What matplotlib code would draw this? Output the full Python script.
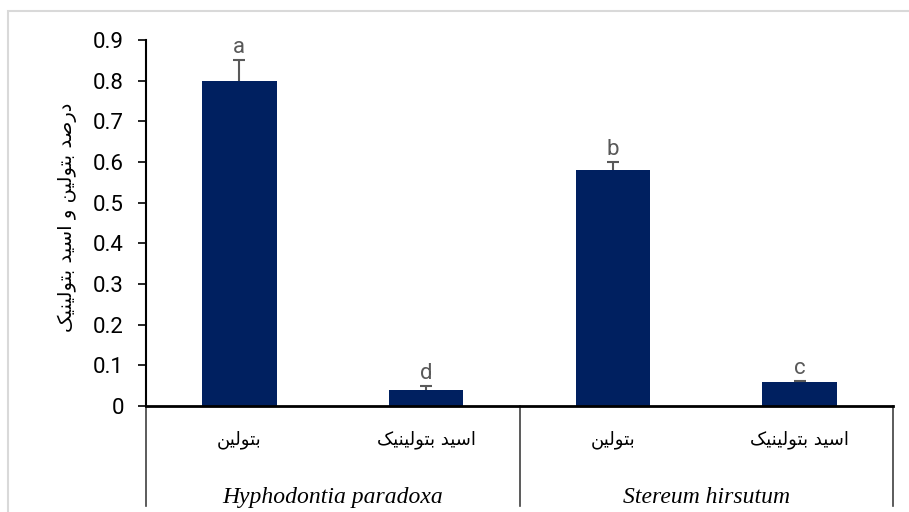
import numpy as np
import matplotlib
matplotlib.use('Agg')
import matplotlib.pyplot as plt
from matplotlib.patches import Rectangle

plt.rcParams['font.family'] = ['Roboto', 'DejaVu Sans']

# data
species = ['Hyphodontia paradoxa', 'Stereum hirsutum']
compounds = ['بتولین', 'اسید بتولینیک']
values = [0.80, 0.04, 0.58, 0.06]
errors = [0.05, 0.01, 0.02, 0.002]
letters = ['a', 'd', 'b', 'c']
y_ticks = [0, 0.1, 0.2, 0.3, 0.4, 0.5, 0.6, 0.7, 0.8, 0.9]
y_tick_labels = ['0', '0.1', '0.2', '0.3', '0.4', '0.5', '0.6', '0.7', '0.8', '0.9']
y_title = 'درصد بتولین و اسید بتولینیک'

# matplotlib has no arabic shaping, so pick presentation forms by hand
FORMS = {
    'ا': ('\uFE8D', '\uFE8E'),
    'د': ('\uFEA9', '\uFEAA'),
    'ر': ('\uFEAD', '\uFEAE'),
    'و': ('\uFEED', '\uFEEE'),
    'ب': ('\uFE8F', '\uFE90', '\uFE91', '\uFE92'),
    'ت': ('\uFE95', '\uFE96', '\uFE97', '\uFE98'),
    'س': ('\uFEB1', '\uFEB2', '\uFEB3', '\uFEB4'),
    'ص': ('\uFEB9', '\uFEBA', '\uFEBB', '\uFEBC'),
    'ل': ('\uFEDD', '\uFEDE', '\uFEDF', '\uFEE0'),
    'ن': ('\uFEE5', '\uFEE6', '\uFEE7', '\uFEE8'),
    'ی': ('\uFBFC', '\uFBFD', '\uFBFE', '\uFBFF'),
    'ک': ('\uFB8E', '\uFB8F', '\uFB90', '\uFB91'),
}


def shape(text):
    out = []
    for i, ch in enumerate(text):
        f = FORMS.get(ch)
        if f is None:
            out.append(ch)
            continue
        prev = text[i - 1] if i > 0 else ''
        nxt = text[i + 1] if i + 1 < len(text) else ''
        join_prev = prev in FORMS and len(FORMS[prev]) == 4
        join_next = len(f) == 4 and nxt in FORMS
        if join_prev and join_next:
            out.append(f[3])
        elif join_prev:
            out.append(f[1])
        elif join_next:
            out.append(f[2])
        else:
            out.append(f[0])
    return ''.join(out)[::-1]


fig = plt.figure(figsize=(9.09, 5.12), dpi=100)
ax = fig.add_axes([146 / 909, 1 - 406 / 512, 747 / 909, 366 / 512])

n = len(species) * len(compounds)
x = np.arange(n)
ax.bar(x, values, width=0.4, color='#002060', zorder=2)
eb = ax.errorbar(x, values, yerr=[np.zeros(n), errors], fmt='none', ecolor='#595959',
                 elinewidth=1.5, capsize=4, capthick=1.5, zorder=3)
eb[1][0].set_visible(False)  # plus-only error bars

for i in range(n):
    ax.annotate(letters[i], (x[i], values[i] + errors[i]), xytext=(0, 5),
                textcoords='offset points', ha='center', va='baseline',
                color='#595959', fontsize=16)

ax.set_xlim(-0.5, n - 0.5)
ax.set_ylim(0, 0.9)
ax.set_yticks(y_ticks)
ax.set_yticklabels(y_tick_labels)
ax.tick_params(axis='y', length=6, width=1.2, pad=10, labelsize=16, colors='black')
ax.set_xticks([])
for s in ['top', 'right']:
    ax.spines[s].set_visible(False)
ax.spines['left'].set_linewidth(1.5)
ax.spines['bottom'].set_linewidth(2)

# category table below the axis
trans = ax.get_xaxis_transform()
per = len(compounds)
for k in range(len(species) + 1):
    xv = k * per - 0.5
    ax.plot([xv, xv], [0, -0.273], transform=trans, clip_on=False,
            color='#404040', lw=1.2)
for g, sp in enumerate(species):
    for j, c in enumerate(compounds):
        ax.text(g * per + j, -0.093, shape(c), transform=trans, ha='center',
                va='center', fontsize=13, family='DejaVu Sans')
    ax.text(g * per + (per - 1) / 2, -0.265, sp, transform=trans, ha='center',
            va='baseline', fontsize=17, style='italic', family='Liberation Serif')

fig.text(67 / 909, 1 - 217 / 512, shape(y_title), rotation=90, ha='center',
         va='center', fontsize=14, family='DejaVu Sans')

fig.add_artist(Rectangle((8 / 909, -0.1), 1.1, 1.1 - 11 / 512, transform=fig.transFigure,
                         fill=False, edgecolor='#d9d9d9', lw=1.5))

fig.savefig('out.png', dpi=100)
